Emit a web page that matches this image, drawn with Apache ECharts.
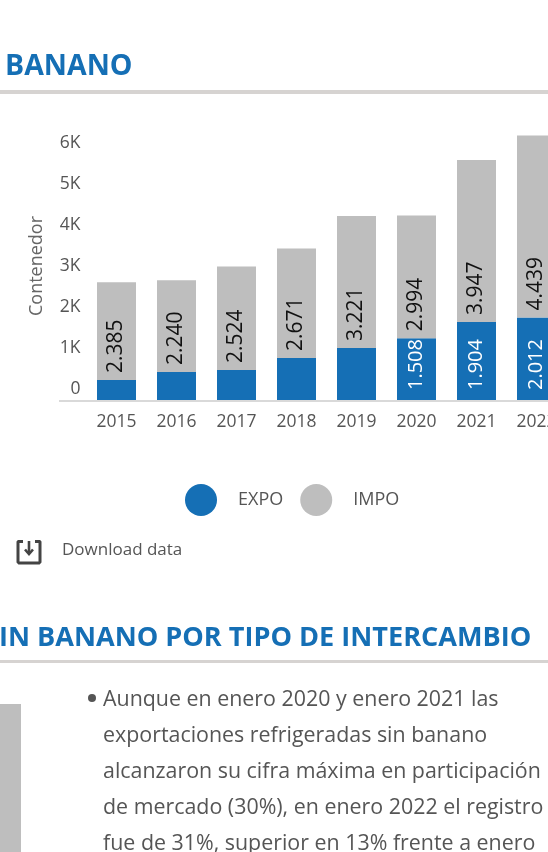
<!DOCTYPE html>
<html><head><meta charset="utf-8">
<style>html,body{margin:0;padding:0;background:#fff;overflow:hidden}#c{width:548px;height:852px}</style>
<script src="https://cdn.jsdelivr.net/npm/echarts@6/dist/echarts.min.js"></script>
</head><body><div id="c"></div>
<script>
const categories = ['2015','2016','2017','2018','2019','2020','2021','2022'];
const expo = [488,683,730,1024,1268,1508,1904,2012];
const impo = [2385,2240,2524,2671,3221,2994,3947,4439];
const expoLabelMin = 1500;
const yTicks = {0:'0',1000:'1K',2000:'2K',3000:'3K',4000:'4K',5000:'5K',6000:'6K'};
const paragraph = ['Aunque en enero 2020 y enero 2021 las','exportaciones refrigeradas sin banano','alcanzaron su cifra máxima en participación','de mercado (30%), en enero 2022 el registro','fue de 31%, superior en 13% frente a enero'];
const BLUE='#156fb5', GREY='#bebebe', RULE='#d6d3d1', TXT='#555555', FF='"Open Sans"';
const fmt = v => (v/1000).toFixed(3);
const chart = echarts.init(document.getElementById('c'),null,{renderer:'canvas'});
const txt=(x,y,text,fs,fill,weight)=>({type:'text',x,y,style:{text,font:`${weight||400} ${fs}px ${FF}`,fill,textVerticalAlign:'middle',textBaseline:'middle'}});
const line=(points,w)=>({type:'polyline',shape:{points},style:{fill:null,stroke:'#444',lineWidth:w}});
chart.setOption({
  animation:false,
  grid:{left:86.5,top:113,width:480,height:287,containLabel:false,outerBoundsMode:'none'},
  legend:{left:185,top:484,padding:0,itemWidth:32,itemHeight:32,itemGap:17,icon:'circle',
    data:['EXPO','IMPO'],textStyle:{fontFamily:FF,fontSize:18,color:TXT,padding:[0,0,0,16]}},
  xAxis:{type:'category',data:categories,axisTick:{show:false},axisLine:{show:false},
    axisLabel:{fontFamily:FF,fontSize:17.5,color:TXT,margin:13}},
  yAxis:{type:'value',min:0,max:7000,interval:1000,splitLine:{show:false},axisLine:{show:false},axisTick:{show:false},
    name:'Contenedor',nameLocation:'middle',nameRotate:90,nameGap:41,
    nameTextStyle:{fontFamily:FF,fontSize:18,color:'#666',padding:[0,19,0,0]},
    axisLabel:{fontFamily:FF,fontSize:17.5,color:TXT,margin:6,showMaxLabel:false,
      formatter:v=>yTicks[v]||'',verticalAlign:'bottom',padding:[0,0,2,0]}},
  series:[
    {name:'EXPO',type:'bar',stack:'t',barWidth:39,itemStyle:{color:BLUE},
      data:expo.map(v=>({value:v,label:{show:v>=expoLabelMin}})),
      label:{position:'insideBottom',rotate:90,align:'left',verticalAlign:'middle',distance:10,
        color:'#fff',fontFamily:FF,fontSize:20,formatter:p=>fmt(p.value)}},
    {name:'IMPO',type:'bar',stack:'t',barWidth:39,itemStyle:{color:GREY},data:impo,
      label:{show:true,position:'insideBottom',rotate:90,align:'left',verticalAlign:'middle',distance:7,
        color:'#111',fontFamily:FF,fontSize:21,formatter:p=>fmt(p.value)}}
  ],
  graphic:[
    txt(5,67,'BANANO',28.5,BLUE,700),
    {type:'rect',shape:{x:0,y:90,width:548,height:4},style:{fill:RULE}},
    {type:'rect',shape:{x:59,y:400,width:489,height:2},style:{fill:'#d9d9d9'}},
    line([[23,541.5],[18.5,541.5],[18,542],[18,562],[19,563],[39,563],[40,562],[40,542],[39.5,541.5],[35,541.5]],3),
    line([[29,541],[29,553]],2.6),
    line([[25,549.5],[29,554],[33,549.5]],2.6),
    txt(62,550,'Download data',17,TXT),
    txt(-1,638.5,'IN BANANO POR TIPO DE INTERCAMBIO',27.1,BLUE,700),
    {type:'rect',shape:{x:0,y:660,width:548,height:3},style:{fill:RULE}},
    {type:'rect',shape:{x:0,y:704,width:21,height:148},style:{fill:GREY}},
    {type:'circle',shape:{cx:92,cy:698,r:4},style:{fill:TXT}},
    ...paragraph.map((t,i)=>txt(103,700+36*i,t,21.4,TXT))
  ]
});
</script></body></html>
